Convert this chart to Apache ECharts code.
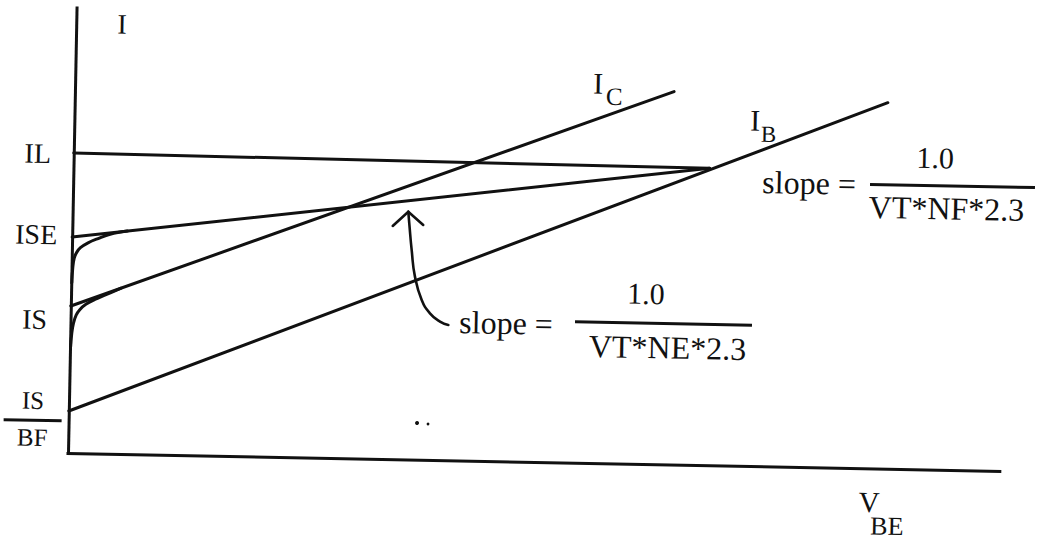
<!DOCTYPE html>
<html>
<head>
<meta charset="utf-8">
<script src="https://cdn.jsdelivr.net/npm/echarts@6/dist/echarts.min.js"></script>
<style>
  html, body { margin: 0; padding: 0; background: #fff; overflow: hidden; }
  #main {
    width: 1038px; height: 539px;
    /* the sheet sits slightly tilted */
    transform: rotate(1.1deg);
    transform-origin: 68px 453px;
  }
</style>
</head>
<body>
<div id="main"></div>
<script>
// log(I) against V_BE, both in arbitrary units (y measured in decades)
const xMax = 9.32;
const yMax = 4.45;

// straight asymptotes
const ilLine  = [[0, 3.00], [6.36, 2.97]];
const iseLine = [[0, 2.16], [6.36, 2.97]];
const icLine  = [[0, 1.47], [5.99, 3.73]];
const ibLine  = [[0, 0.42], [8.13, 3.66]];

// low-bias knees rising off the current axis
const iseKnee = [[0.005, 1.70], [0.012, 1.85], [0.025, 1.95], [0.05, 2.01], [0.085, 2.055],
                 [0.16, 2.105], [0.26, 2.15], [0.38, 2.195], [0.55, 2.23]];
const isKnee  = [[0.005, 1.05], [0.015, 1.20], [0.03, 1.30], [0.055, 1.38], [0.09, 1.435],
                 [0.15, 1.49], [0.24, 1.54], [0.35, 1.59], [0.50, 1.658]];

// current-axis tick labels
const yTickValues = [0.35, 1.33, 2.18, 2.99];
const yTickLabels = ['{n|IS}\n{bar| }\n{d|BF}', 'IS', 'ISE', 'IL'];

// annotation arrow pointing at the ISE line
const arrowCurve = [[3.778, 1.353], [3.694, 1.384], [3.592, 1.466], [3.507, 1.598],
                    [3.435, 1.83], [3.397, 2.096], [3.368, 2.362], [3.356, 2.478]];
const arrowHead  = [[3.203, 2.332], [3.356, 2.478], [3.508, 2.348]];

const INK = '#111';
const SERIF = "'Liberation Serif', 'Times New Roman', serif";

// text placed in data space
const notes = [
  { text: 'I',          at: [0.458, 4.299], size: 28 },
  { text: 'I',          at: [5.229, 3.801], size: 30 },
  { text: 'C',          at: [5.392, 3.669], size: 25 },
  { text: 'I',          at: [6.806, 3.461], size: 30 },
  { text: 'B',          at: [6.943, 3.319], size: 23 },
  { text: 'slope =',    at: [7.358, 2.842], size: 32 },
  { text: '1.0',        at: [8.613, 3.120], size: 30 },
  { text: 'VT*NF*2.3',  at: [8.737, 2.614], size: 32 },
  { text: 'slope =',    at: [4.355, 1.384], size: 32 },
  { text: '1.0',        at: [5.749, 1.706], size: 30 },
  { text: 'VT*NE*2.3',  at: [5.974, 1.170], size: 32 }
];
// x-axis title with its subscript, anchored at the left of the V
const axisTitle = { at: [7.915, -0.455] };

// fraction bars: centre in data space, length in px
const fractionBars = [
  { at: [8.792, 2.839], len: 165 },
  { at: [5.929, 1.409], len: 177 }
];
const specks = [
  { at: [3.484, 0.367], r: 2.0 },
  { at: [3.594, 0.359], r: 1.4 }
];

function lineSeries(name, data, smooth) {
  return {
    name, type: 'line', data, smooth: smooth || false,
    symbol: 'none', silent: true, clip: false,
    lineStyle: { color: INK, width: 3, cap: 'round', join: 'round' }
  };
}

const chart = echarts.init(document.getElementById('main'), null, { renderer: 'svg' });

chart.setOption({
  animation: false,
  backgroundColor: '#fff',
  grid: { left: 68, top: 8, width: 932, height: 445, containLabel: false, outerBoundsMode: 'none' },
  xAxis: {
    type: 'value', min: 0, max: xMax,
    axisLine: { show: true, onZero: false, lineStyle: { color: INK, width: 3, cap: 'square' } },
    axisTick: { show: false }, axisLabel: { show: false }, splitLine: { show: false }
  },
  yAxis: {
    type: 'value', min: 0, max: yMax,
    axisLine: { show: true, onZero: false, lineStyle: { color: INK, width: 3, cap: 'square' } },
    axisTick: { show: false }, splitLine: { show: false },
    axisLabel: {
      show: true,
      customValues: yTickValues,
      formatter: v => {
        const i = yTickValues.findIndex(t => Math.abs(t - v) < 1e-6);
        return i < 0 ? '' : yTickLabels[i];
      },
      align: 'center',
      margin: 36,
      color: INK,
      fontFamily: SERIF,
      fontSize: 28,
      rich: {
        n:   { fontFamily: SERIF, fontSize: 25, color: INK, lineHeight: 34, align: 'center' },
        bar: { width: 58, height: 3, backgroundColor: INK, fontSize: 1, lineHeight: 6, align: 'center' },
        d:   { fontFamily: SERIF, fontSize: 25, color: INK, lineHeight: 28, align: 'center' }
      }
    }
  },
  series: [
    lineSeries('IL', ilLine),
    lineSeries('ISE', iseLine),
    lineSeries('IC', icLine),
    lineSeries('IB', ibLine),
    lineSeries('ISE knee', iseKnee, 0.4),
    lineSeries('IS knee', isKnee, 0.4),
    Object.assign(lineSeries('arrow', arrowCurve, 0.5), { lineStyle: { color: INK, width: 2.6, cap: 'round' } }),
    Object.assign(lineSeries('arrow head', arrowHead), { lineStyle: { color: INK, width: 2.6, cap: 'round', join: 'miter' } })
  ]
});

const px = p => chart.convertToPixel({ gridIndex: 0 }, p);
const graphics = [];
notes.forEach(n => {
  const [x, y] = px(n.at);
  graphics.push({
    type: 'text', x, y, silent: true,
    style: {
      text: n.text, fill: INK, fontSize: n.size, fontFamily: SERIF,
      align: 'center', verticalAlign: 'middle',
      textAlign: 'center', textVerticalAlign: 'middle'
    }
  });
});
{
  const [x, y] = px(axisTitle.at);
  graphics.push({
    type: 'text', x, y, silent: true,
    style: {
      text: '{v|V}\n{s|BE}', fill: INK, fontFamily: SERIF,
      align: 'left', verticalAlign: 'middle',
      textAlign: 'left', textVerticalAlign: 'middle',
      rich: {
        v: { fontSize: 29, fontFamily: SERIF, fill: INK, color: INK, lineHeight: 24, align: 'left' },
        s: { fontSize: 26, fontFamily: SERIF, fill: INK, color: INK, lineHeight: 24, align: 'left', padding: [0, 0, 0, 12] }
      }
    }
  });
}
fractionBars.forEach(b => {
  const [x, y] = px(b.at);
  graphics.push({
    type: 'line', silent: true,
    shape: { x1: x - b.len / 2, y1: y, x2: x + b.len / 2, y2: y },
    style: { stroke: INK, lineWidth: 3 }
  });
});
specks.forEach(s => {
  const [x, y] = px(s.at);
  graphics.push({ type: 'circle', silent: true, shape: { cx: x, cy: y, r: s.r }, style: { fill: INK } });
});
chart.setOption({ graphic: graphics });
</script>
</body>
</html>
